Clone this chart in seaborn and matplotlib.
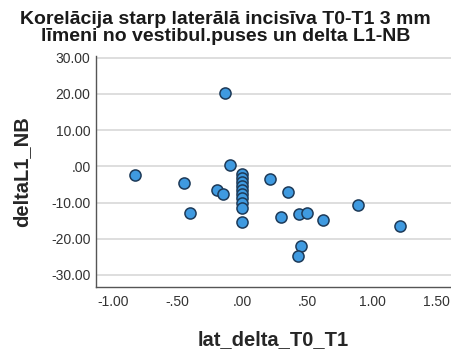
import matplotlib
matplotlib.use("Agg")
import matplotlib.pyplot as plt
import seaborn as sns
import pandas as pd
from matplotlib.ticker import FuncFormatter

# lateral incisor change T0-T1 (3 mm level, vestibular side) vs delta L1-NB
lat_delta_T0_T1 = [-0.83, -0.45, -0.405, -0.2, -0.15, -0.134, -0.095,
                   0.0, 0.0, 0.0, 0.0, 0.0, 0.0, 0.0, 0.0, 0.0, 0.0,
                   0.21, 0.35, 0.30, 0.44, 0.50, 0.62, 0.45, 0.43, 0.89, 1.22]
deltaL1_NB = [-2.3, -4.7, -12.9, -6.6, -7.6, 20.2, 0.4,
              -2.2, -3.3, -4.4, -5.5, -6.5, -7.6, -8.8, -10.0, -11.4, -15.3,
              -3.4, -7.1, -13.9, -13.2, -12.8, -14.8, -22.1, -24.9, -10.7, -16.4]

x_ticks = [-1.0, -0.5, 0.0, 0.5, 1.0, 1.5]
y_ticks = [30, 20, 10, 0, -10, -20, -30]

df = pd.DataFrame({"lat_delta_T0_T1": lat_delta_T0_T1, "deltaL1_NB": deltaL1_NB})

sns.set_style("white")
plt.rcParams["font.family"] = ["Liberation Sans", "DejaVu Sans"]

fig = plt.figure(figsize=(4.51, 3.60), dpi=100)
ax = fig.add_axes([0.213, 0.203, 0.787, 0.641])

for y in y_ticks:
    ax.axhline(y, color="#d8d8d8", linewidth=1.2, zorder=0)

sns.scatterplot(data=df, x="lat_delta_T0_T1", y="deltaL1_NB", ax=ax,
                s=64, color="#3f9ae0", edgecolor="#1d3a58", linewidth=1.1,
                zorder=3, legend=False)

ax.set_xlim(-1.13, 1.61)
ax.set_ylim(-33.3, 30.4)
ax.set_xticks(x_ticks)
ax.set_yticks(y_ticks)


def spss_fmt(v, pos):
    s = f"{v:.2f}"
    if s.startswith("0."):
        s = s[1:]
    elif s.startswith("-0."):
        s = "-" + s[2:]
    return s


ax.xaxis.set_major_formatter(FuncFormatter(spss_fmt))
ax.yaxis.set_major_formatter(FuncFormatter(spss_fmt))
ax.tick_params(axis="both", labelsize=10, colors="#333333", length=0, pad=4)
ax.tick_params(axis="x", pad=6)

for side in ["top", "right"]:
    ax.spines[side].set_visible(False)
for side in ["left", "bottom"]:
    ax.spines[side].set_color("#555555")
    ax.spines[side].set_linewidth(1.0)

ax.set_xlabel("lat_delta_T0_T1", fontsize=14.5, fontweight="bold", labelpad=15)
ax.set_ylabel("deltaL1_NB", fontsize=14.5, fontweight="bold", labelpad=14)

fig.text(0.5, 0.922, "Korelācija starp laterālā incisīva T0-T1 3 mm\nlīmeni no vestibul.puses un delta L1-NB",
         ha="center", va="center", fontsize=14, fontweight="bold",
         linespacing=1.0, color="#1a1a1a")

fig.savefig("out.png", dpi=100)
